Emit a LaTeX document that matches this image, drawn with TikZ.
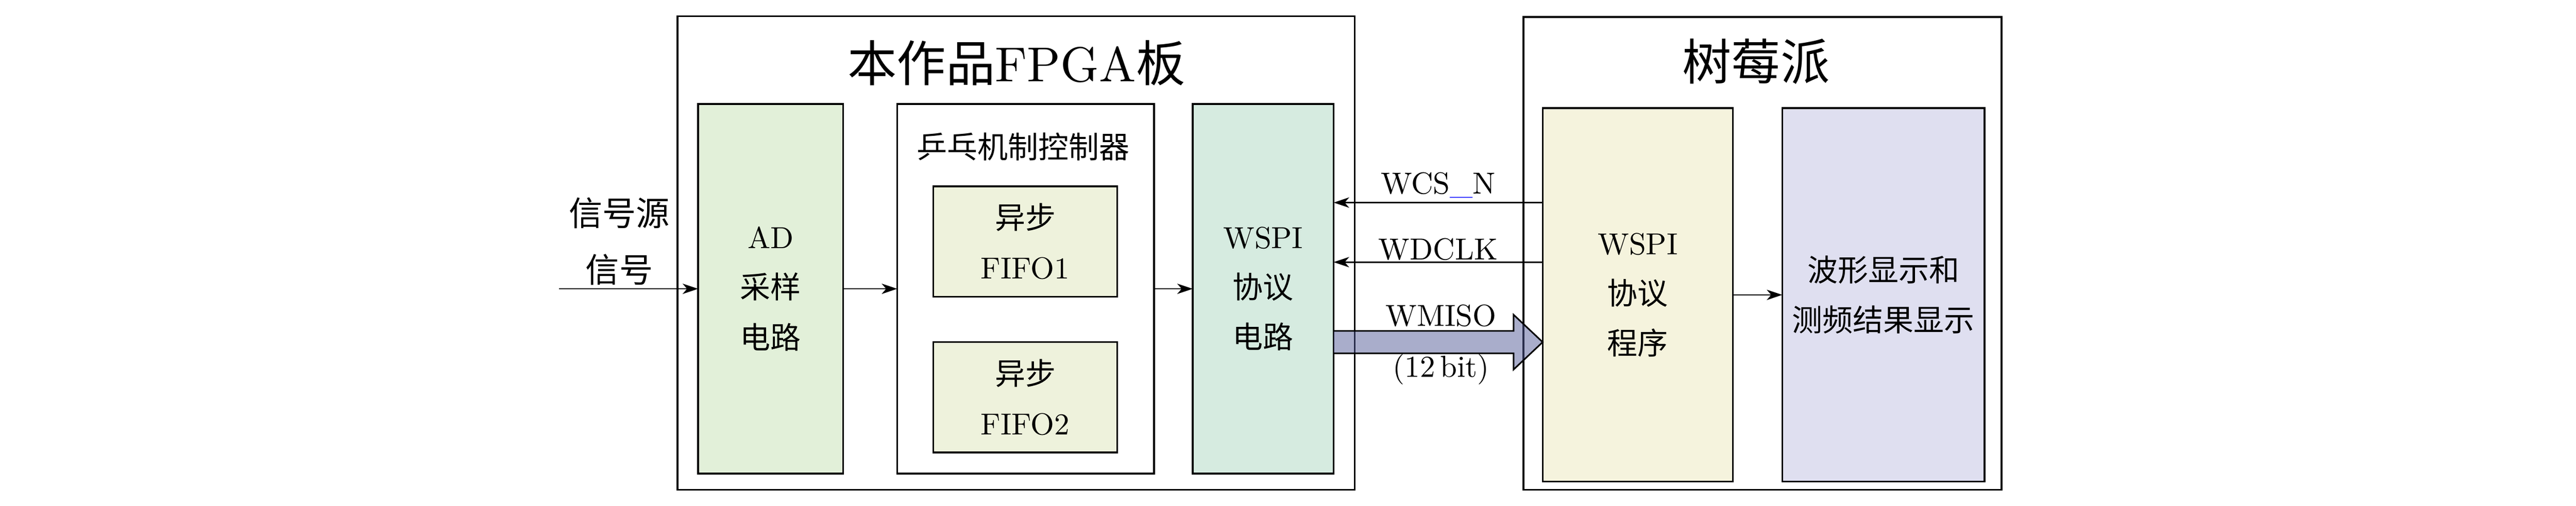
\documentclass[tikz,border=0pt]{standalone}
\usepackage{fontspec}
\usepackage{tikz}
\usetikzlibrary{arrows.meta}
\setmainfont{lmroman10-regular}[Extension=.otf]
\newfontfamily\cjk{Noto Sans CJK SC}
\newcommand{\zh}[1]{{\cjk #1}}
\definecolor{adgreen}{RGB}{226,240,217}
\definecolor{wspigreen}{RGB}{214,235,224}
\definecolor{fifoyel}{RGB}{238,242,220}
\definecolor{progyel}{RGB}{245,243,221}
\definecolor{showblue}{RGB}{223,223,240}
\definecolor{busblue}{RGB}{83,91,151}

\begin{document}
\begin{tikzpicture}[
	font=\fontsize{23.5}{38.7}\selectfont,
	board/.style={draw,line width=1.4pt,inner sep=0,outer sep=0},
	block/.style={draw,line width=1.4pt,inner sep=0,outer sep=0,align=center},
	sig/.style={line width=1pt,-{Stealth[length=4.2mm,width=2.8mm,inset=1.2mm]}},
	bus/.style={line width=1.2pt,fill=busblue,fill opacity=0.5,line join=miter},
	title/.style={font=\fontsize{38}{38}\selectfont}
]
	\useasboundingbox (0,0) rectangle (70,13.76);
	\node[board,minimum width=18.40cm,minimum height=12.88cm] (fpga) at (27.61,6.88) {};
	\node[board,minimum width=12.99cm,minimum height=12.86cm] (rpi) at (47.895,6.87) {};
	\node[title] (t1) at (27.62,12.05) {\zh{本作品}FPGA\zh{板}};
	\node[title] (t2) at (47.72,12.09) {\zh{树莓派}};
	\node[block,fill=adgreen,minimum width=3.94cm,minimum height=10.05cm] (ad) at (20.94,5.905) {AD\\\zh{采样}\\\zh{电路}};
	\node[block,fill=white,minimum width=6.98cm,minimum height=10.05cm] (pp) at (27.87,5.905) {};
	\node (ppl) at (27.8,9.77) {\zh{乒乓机制控制器}};
	\node[block,fill=fifoyel,minimum width=5.0cm,minimum height=3.0cm] (f1) at (27.86,7.19) {\zh{异步}\\FIFO1};
	\node[block,fill=fifoyel,minimum width=5.0cm,minimum height=3.0cm] (f2) at (27.86,2.955) {\zh{异步}\\FIFO2};
	\node[block,fill=wspigreen,minimum width=3.83cm,minimum height=10.05cm] (wspi) at (34.325,5.905) {WSPI\\\zh{协议}\\\zh{电路}};
	\node[block,fill=progyel,minimum width=5.17cm,minimum height=10.16cm] (prog) at (44.505,5.74) {WSPI\\\zh{协议}\\\zh{程序}};
	\node[block,fill=showblue,minimum width=5.5cm,minimum height=10.16cm] (show) at (51.18,5.74) {\zh{波形显示和}\\\zh{测频结果显示}};
	\node[align=center,font=\fontsize{26}{43.7}\selectfont] (src) at (16.83,7.2) {\zh{信号源}\\\zh{信号}};
	\coordinate (in) at (15.19,5.905);
	\draw[sig] (in) -- (ad.west);
	\draw[sig] (ad.east) -- (pp.west);
	\draw[sig] (pp.east) -- (wspi.west);
	\draw[sig] (prog.west |- 0,8.25) -- (wspi.east |- 0,8.25) node[midway,anchor=base,yshift=0.24cm] (wcs) {WCS\textcolor{blue}{\_}N};
	\draw[sig] (prog.west |- 0,6.63) -- (wspi.east |- 0,6.63) node[midway,anchor=base,yshift=0.07cm] (wdclk) {WDCLK};
	\draw[sig] (prog.east) -- (show.west);
	\draw[bus] (wspi.east |- 0,4.76) -- ([xshift=-0.79cm]prog.west |- 0,4.76) -- ++(0,0.44) -- (prog.west |- 0,4.455) -- ([xshift=-0.79cm]prog.west |- 0,3.71) -- ++(0,0.44) -- (wspi.east |- 0,4.15);
	\node[anchor=base] (wmiso) at (39.16,4.89) {WMISO};
	\node[anchor=base] (bits) at (39.16,3.51) {(12\,bit)};
\end{tikzpicture}
\end{document}
